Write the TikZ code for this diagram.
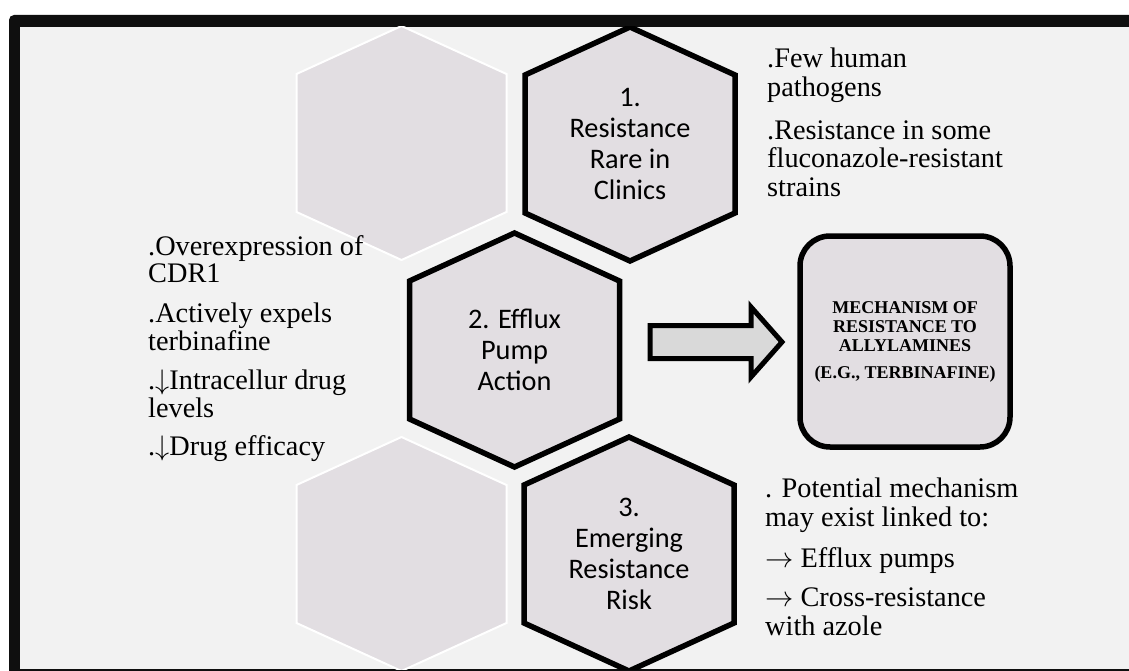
\RequirePackage{fix-cm}
\documentclass[tikz,border=0pt]{standalone}
\usepackage{fontspec}
\setmainfont{Liberation Serif}
\newfontfamily\hexfont{Carlito}
\definecolor{bgc}{HTML}{F2F2F2}
\definecolor{hexfill}{HTML}{E2DEE2}
\definecolor{arrowfill}{HTML}{D9D9D9}
\definecolor{framec}{HTML}{0F0F0F}
\newcommand{\hexat}[1]{(#1) +(0,-117) -- +(105,-69) -- +(105,69) -- +(0,117) -- +(-105,69) -- +(-105,-69) -- cycle}
\newcommand{\dnarr}{$\downarrow$}
\newcommand{\rtarr}{$\rightarrow$}
\begin{document}
\begin{tikzpicture}[x=1pt,y=-1pt,
  hexbold/.style={fill=hexfill, draw=black, line width=5.5pt, line join=miter},
  hexghost/.style={fill=hexfill, draw=white, line width=2pt},
  hexlabel/.style={font=\hexfont\fontsize{28.3}{31}\selectfont, align=center, inner sep=0pt},
  bodytext/.style={font=\fontsize{28.3}{#1}\selectfont, align=flush left, text width=300pt, inner sep=0pt, anchor=base west},
  mechbox/.style={draw=black, fill=hexfill, line width=5.5pt, rounded corners=30pt, minimum width=210pt, minimum height=211pt, inner sep=0pt, align=center, font=\bfseries\fontsize{18}{19}\selectfont},
  blockarrow/.style={draw=black, fill=arrowfill, line width=5pt, line join=miter}
]
\useasboundingbox (0,0) rectangle (1129,671);
\clip (0,0) rectangle (1129,671);
\fill[white] (0,0) rectangle (1129,671);
% frame
\fill[framec, rounded corners=5pt] (9,15) rectangle (1170,700);
\fill[bgc] (20,27) rectangle (1170,669);
\begin{scope}
  \clip (20,27) rectangle (1170,669);
  % ghost hexagons
  \path[hexghost] \hexat{401.5,143};
  \path[hexghost] \hexat{401.5,554};
  % bold hexagons
  \path[hexbold] \hexat{630,144};
  \path[hexbold] \hexat{514.5,350};
  \path[hexbold] \hexat{629,554};
\end{scope}
% hexagon labels
\node[hexlabel] (h1) at (630,144) {1.\\Resistance\\Rare in\\Clinics};
\node[hexlabel] (h2) at (514.5,350) {2. Efflux\\Pump\\Action};
\node[hexlabel] (h3) at (629,554) {3.\\Emerging\\Resistance\\Risk};
% result box
\node[mechbox] (mech) at (905,341.5) {MECHANISM OF\\RESISTANCE TO\\ALLYLAMINES\\[8pt](E.G., TERBINAFINE)};
% block arrow
\coordinate (arr) at (650,342);
\draw[blockarrow] (arr) +(0,-16.5) -- +(101,-16.5) -- +(101,-35) -- +(132,0) -- +(101,35) -- +(101,16.5) -- +(0,16.5) -- cycle;
% texts
\node[bodytext=28.5] (t1) at (767,68) {.Few human\\pathogens\\[14.5pt].Resistance in some\\fluconazole-resistant\\strains};
\node[bodytext=27.7] (t2) at (148,255) {.Overexpression of\\CDR1\\[12pt].Actively expels\\terbinafine\\[12pt].\dnarr Intracellur drug\\levels\\[10pt].\dnarr Drug efficacy};
\node[bodytext=29.5] (t3) at (765,497) {. Potential mechanism\\may exist linked to:\\[11pt]\rtarr{} Efflux pumps\\[9.5pt]\rtarr{} Cross-resistance\\with azole};
\end{tikzpicture}
\end{document}
